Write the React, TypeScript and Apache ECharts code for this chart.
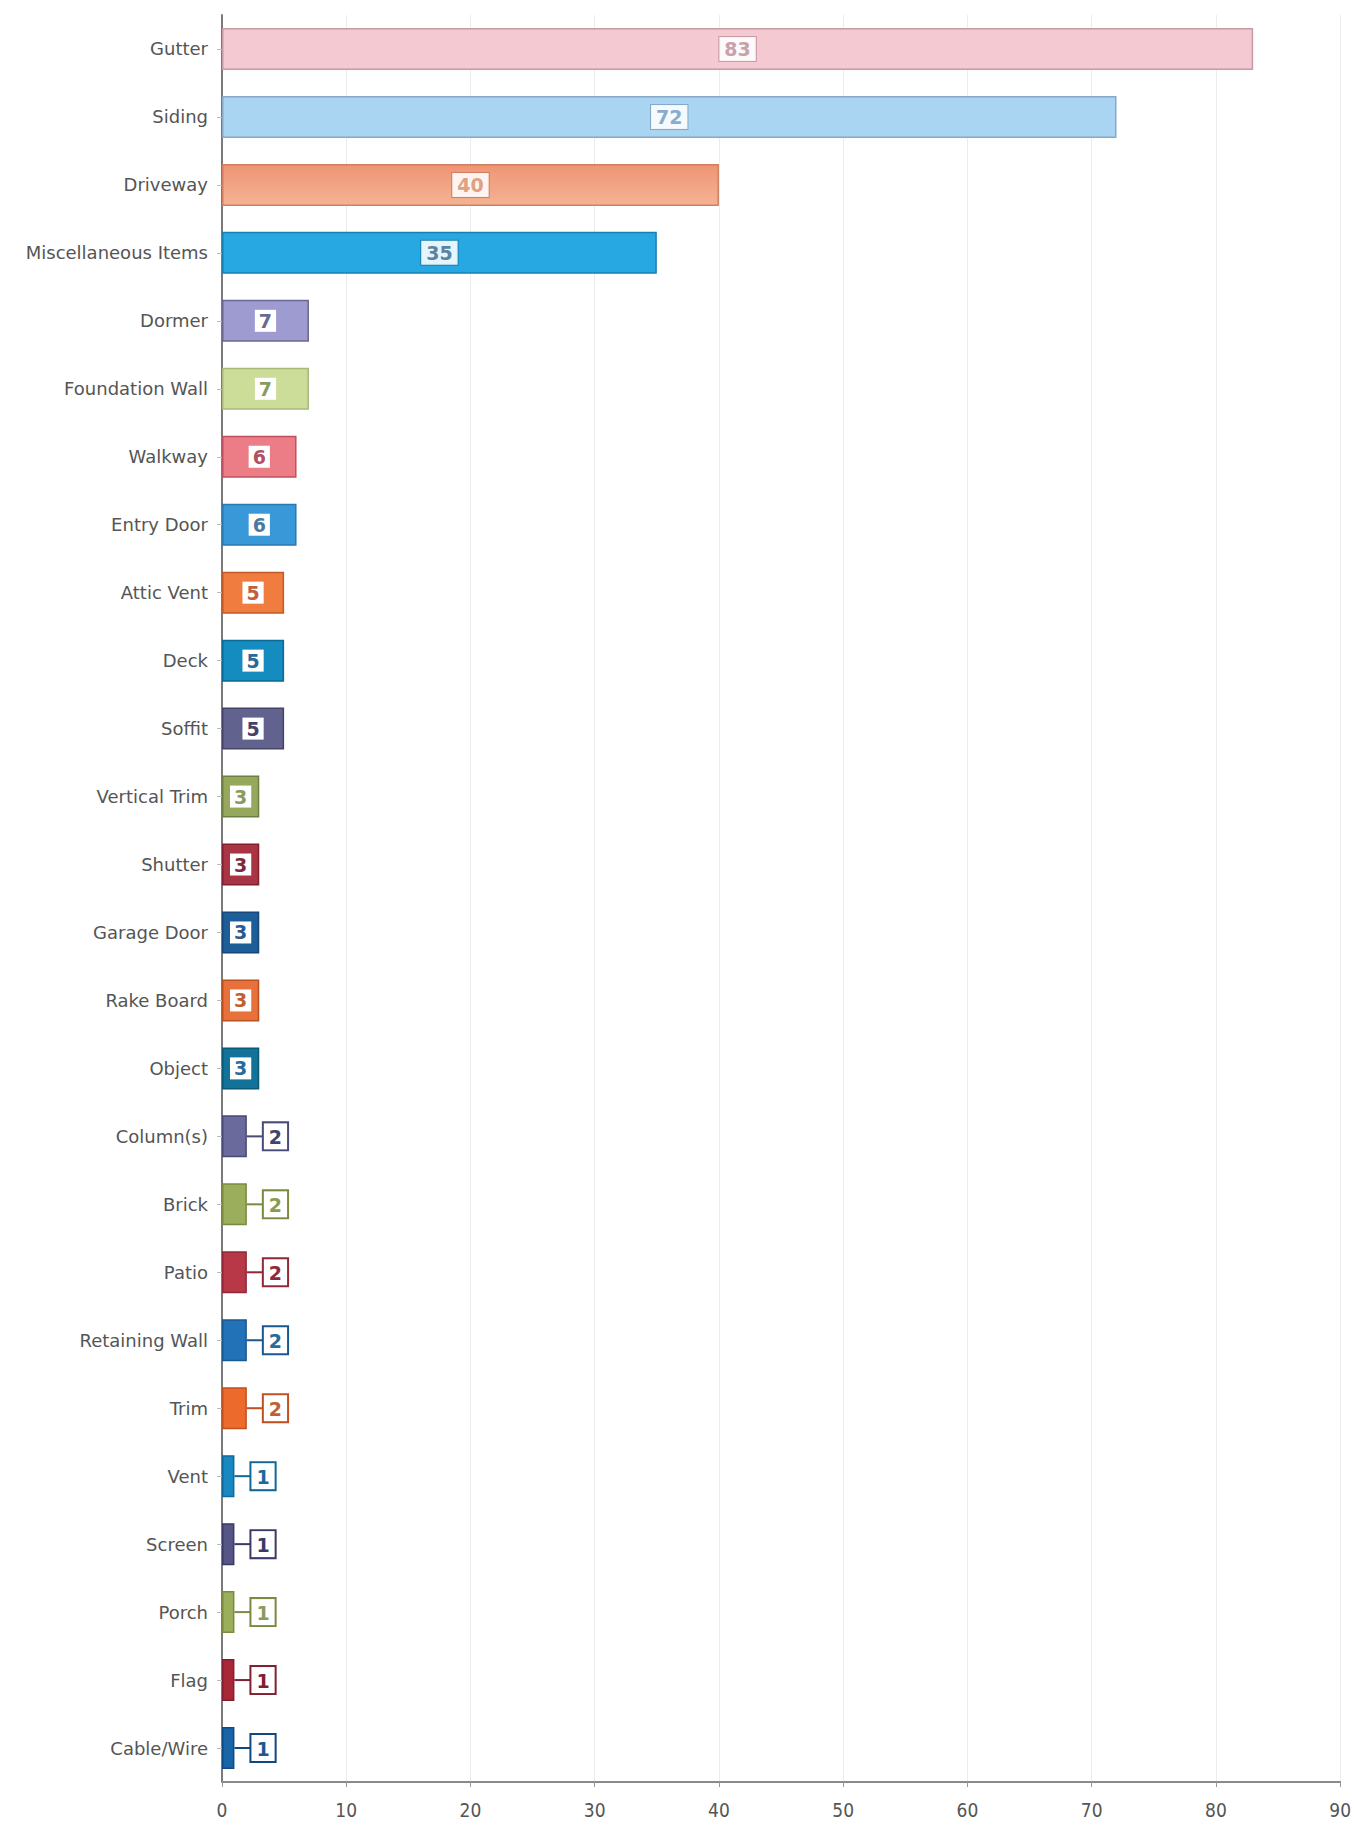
import React, { useEffect, useRef } from "react";
import * as echarts from "echarts";

const categories = [
  "Gutter", "Siding", "Driveway", "Miscellaneous Items", "Dormer", "Foundation Wall",
  "Walkway", "Entry Door", "Attic Vent", "Deck", "Soffit", "Vertical Trim", "Shutter",
  "Garage Door", "Rake Board", "Object", "Column(s)", "Brick", "Patio", "Retaining Wall",
  "Trim", "Vent", "Screen", "Porch", "Flag", "Cable/Wire",
];
const values = [83, 72, 40, 35, 7, 7, 6, 6, 5, 5, 5, 3, 3, 3, 3, 3, 2, 2, 2, 2, 2, 1, 1, 1, 1, 1];
const fillColors = [
  "#f4c9d1", "#a9d5f3", "#f2a07f", "#27a8e2", "#9d9bd0", "#ccdc99", "#ec7d87", "#3898d8",
  "#f07c40", "#148cc0", "#62628e", "#96a85c", "#a83444", "#1e5e98", "#e8703a", "#12729a",
  "#6a6a9c", "#9aae5c", "#b83848", "#2272b8", "#ec6a2c", "#1888c0", "#565686", "#9aae5c",
  "#a82838", "#1a64a8",
];
const borderColors = [
  "#c89aa4", "#88a8c8", "#d08060", "#1880b0", "#6a6890", "#a8b878", "#c05060", "#2a78b0",
  "#c05a28", "#0a6a98", "#44446a", "#6e8040", "#802030", "#154878", "#b85020", "#0a5878",
  "#4a4a78", "#7a8a40", "#902838", "#1a5890", "#c05020", "#106898", "#3a3a68", "#7a8a40",
  "#802030", "#104880",
];
const labelColors = [
  "#c8a2aa", "#8aaccc", "#e0a082", "#5a84a0", "#6a6a90", "#8a9a60", "#b05060", "#4a7aa0",
  "#c06040", "#2a6a98", "#44446a", "#8a9a60", "#802838", "#2a5a90", "#c06030", "#2a6a98",
  "#44446a", "#8a9a50", "#902838", "#2a6a98", "#c06030", "#1a6aa0", "#3a3a68", "#8a9a60",
  "#802030", "#1a5a90",
];
const xTicks = [0, 10, 20, 30, 40, 50, 60, 70, 80, 90];

export default function App() {
  const ref = useRef<HTMLDivElement>(null);
  useEffect(() => {
    if (!ref.current) return;
    const chart = echarts.init(ref.current, undefined, { renderer: "svg" });
    const data = values.map((v, i) => {
      const big = v >= 30;
      let label: any;
      if (v >= 3) {
        label = {
          show: true,
          position: "inside",
          formatter: String(v),
          color: labelColors[i],
          fontFamily: "DejaVu Sans",
          fontWeight: "bold",
          fontSize: 19,
          backgroundColor: big ? "rgba(255,255,255,0.88)" : "#ffffff",
          borderColor: big ? borderColors[i] : "#ffffff",
          borderWidth: big ? 1 : 0,
          padding: big ? [3, 5, 2, 5] : [2, 4, 1, 4],
        };
      } else {
        label = {
          show: true,
          position: "right",
          distance: 0,
          formatter: "{ln|}{box|" + v + "}",
          rich: {
            ln: { width: 17, height: 2, backgroundColor: borderColors[i] },
            box: {
              color: labelColors[i],
              fontFamily: "DejaVu Sans",
              fontWeight: "bold",
              fontSize: 19,
              backgroundColor: "#ffffff",
              borderColor: borderColors[i],
              borderWidth: 2,
              padding: [4, 5, 3, 5],
            },
          },
        };
      }
      const color =
        i === 2
          ? new echarts.graphic.LinearGradient(0, 0, 0, 1, [
              { offset: 0, color: "#ef9474" },
              { offset: 1, color: "#f5b393" },
            ])
          : fillColors[i];
      return {
        value: v,
        itemStyle: { color, borderColor: borderColors[i], borderWidth: 1.5 },
        label,
      };
    });

    chart.setOption({
      animation: false,
      backgroundColor: "#ffffff",
      grid: { left: 222, top: 15, width: 1121, height: 1767 },
      xAxis: {
        type: "value",
        min: 0,
        max: 90,
        interval: 10,
        axisLine: { show: true, lineStyle: { color: "#8a8a8a", width: 2 } },
        axisTick: { show: true, length: 5, lineStyle: { color: "#999" } },
        axisLabel: {
          margin: 18,
          fontFamily: "DejaVu Sans Condensed",
          fontSize: 19,
          color: "#555",
          formatter: (val: number) => (xTicks.includes(val) ? String(val) : ""),
        },
        splitLine: { show: true, lineStyle: { color: "#ececec", width: 1 } },
      },
      yAxis: {
        type: "category",
        inverse: true,
        data: categories,
        axisLine: { show: true, lineStyle: { color: "#7a7a7a", width: 2 } },
        axisTick: { show: true, alignWithLabel: true, length: 5, lineStyle: { color: "#bbb" } },
        axisLabel: {
          margin: 14,
          fontFamily: "DejaVu Sans",
          fontSize: 18,
          color: "#555",
        },
      },
      series: [
        {
          type: "bar",
          barWidth: 42,
          data,
        },
      ],
    });
    return () => chart.dispose();
  }, []);
  return (
    <div
      ref={ref}
      style={{ position: "absolute", left: 0, top: 0, width: 1354, height: 1831 }}
    />
  );
}
